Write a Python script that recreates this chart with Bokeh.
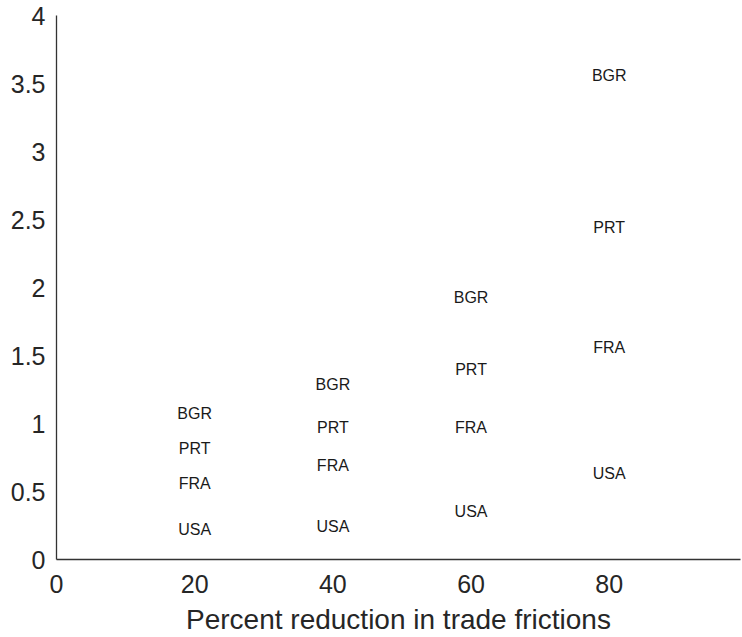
from bokeh.plotting import figure
from bokeh.models import ColumnDataSource, FixedTicker, Range1d
from bokeh.core.properties import value
from bokeh.embed import file_html
from bokeh.resources import INLINE

# Data
reductions = [20, 40, 60, 80]
countries = ["BGR", "PRT", "FRA", "USA"]
bgr = [1.07, 1.29, 1.93, 3.56]
prt = [0.815, 0.97, 1.40, 2.44]
fra = [0.56, 0.69, 0.97, 1.56]
usa = [0.22, 0.24, 0.35, 0.63]
x_ticks = [0, 20, 40, 60, 80]
y_ticks = [0, 0.5, 1, 1.5, 2, 2.5, 3, 3.5, 4]
y_tick_labels = ["0", "0.5", "1", "1.5", "2", "2.5", "3", "3.5", "4"]

xs, ys, labels = [], [], []
for name, vals in zip(countries, [bgr, prt, fra, usa]):
    for xv, yv in zip(reductions, vals):
        xs.append(xv)
        ys.append(yv)
        labels.append(name)
src = ColumnDataSource(dict(x=xs, y=ys, label=labels))

FONT = "Liberation Sans"

p = figure(width=742, height=637, output_backend="svg", toolbar_location=None,
           x_range=Range1d(0, 99), y_range=Range1d(0, 4),
           min_border_left=56, min_border_right=2, min_border_top=15, min_border_bottom=78)
p.outline_line_color = None
p.grid.visible = False
p.background_fill_color = "white"
p.border_fill_color = "white"

p.text(x="x", y="y", text="label", source=src, text_align="center", text_baseline="middle",
       text_font=value(FONT), text_font_size="16px", text_color="#1a1a1a")

for ax in (p.xaxis[0], p.yaxis[0]):
    ax.major_tick_line_color = None
    ax.minor_tick_line_color = None
    ax.axis_line_color = "#333333"
    ax.axis_line_width = 1.3
    ax.major_label_text_font = FONT
    ax.major_label_text_font_size = "25px"
    ax.major_label_text_color = "#262626"

p.xaxis.major_label_standoff = 9
p.yaxis.major_label_standoff = 5
p.xaxis.ticker = FixedTicker(ticks=x_ticks)
p.yaxis.ticker = FixedTicker(ticks=y_ticks)
p.yaxis.major_label_overrides = {t: l for t, l in zip(y_ticks, y_tick_labels)}
p.xaxis.axis_label = "Percent reduction in trade frictions"
p.xaxis.axis_label_text_font = FONT
p.xaxis.axis_label_text_font_size = "28px"
p.xaxis.axis_label_text_font_style = "normal"
p.xaxis.axis_label_text_color = "#262626"
p.xaxis.axis_label_standoff = 8

open("out.html", "w").write(file_html(p, INLINE))
